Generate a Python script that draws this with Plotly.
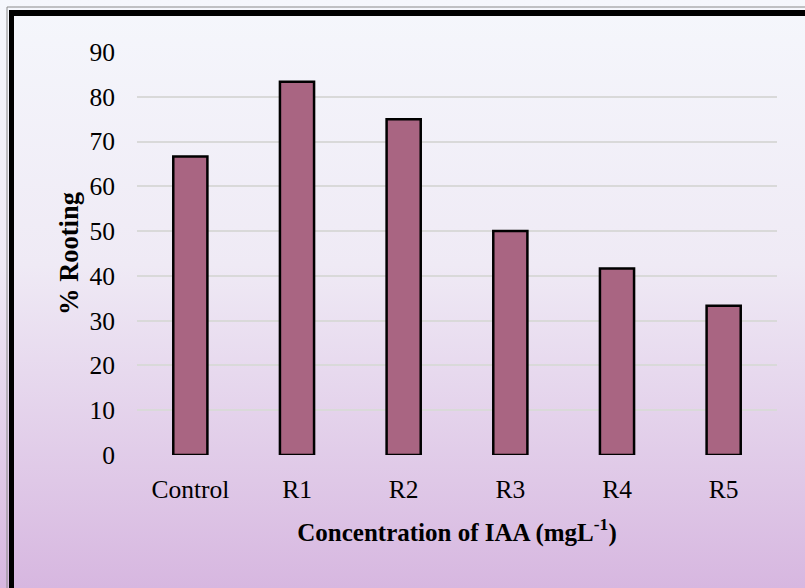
import base64
import plotly.graph_objects as go

categories = ["Control", "R1", "R2", "R3", "R4", "R5"]
rooting = [66.67, 83.33, 75.0, 50.0, 41.67, 33.33]
y_ticks = [0, 10, 20, 30, 40, 50, 60, 70, 80, 90]

W, H = 805, 588
ML, MR, MT, MB = 137, 28, 52, 133

svg = (
    '<svg xmlns="http://www.w3.org/2000/svg" width="805" height="588" preserveAspectRatio="none">'
    '<defs><linearGradient id="g" x1="0" y1="0" x2="0" y2="1">'
    '<stop offset="0" stop-color="#F5F7FC"/>'
    '<stop offset="0.45" stop-color="#EFEAF5"/>'
    '<stop offset="1" stop-color="#D7B7E0"/>'
    '</linearGradient></defs>'
    '<rect width="805" height="588" fill="url(#g)"/></svg>'
)
src = "data:image/svg+xml;base64," + base64.b64encode(svg.encode()).decode()

fig = go.Figure(
    go.Bar(
        x=categories,
        y=rooting,
        marker=dict(color="#A96582", line=dict(color="black", width=2.5)),
        width=0.32,
    )
)

pw = W - ML - MR
ph = H - MT - MB
def px_x(x):
    return (x - ML) / pw
def px_y(y):
    return (H - MB - y) / ph

fig.add_layout_image(
    dict(
        source=src, xref="paper", yref="paper",
        x=px_x(0), y=px_y(0), sizex=W / pw, sizey=H / ph,
        xanchor="left", yanchor="top", sizing="stretch", layer="below",
    )
)

shapes = [
    dict(type="line", xref="paper", yref="paper", x0=px_x(7), x1=px_x(7), y0=px_y(7), y1=px_y(600),
         line=dict(color="#8A8A8A", width=1)),
    dict(type="line", xref="paper", yref="paper", x0=px_x(7), x1=px_x(810), y0=px_y(7), y1=px_y(7),
         line=dict(color="#8A8A8A", width=1)),
    dict(type="line", xref="paper", yref="paper", x0=px_x(11.5), x1=px_x(11.5), y0=px_y(10), y1=px_y(600),
         line=dict(color="black", width=5)),
    dict(type="line", xref="paper", yref="paper", x0=px_x(9), x1=px_x(810), y0=px_y(13), y1=px_y(13),
         line=dict(color="black", width=6)),
]

fig.update_layout(
    width=W, height=H,
    margin=dict(l=ML, r=MR, t=MT, b=MB),
    paper_bgcolor="white",
    plot_bgcolor="rgba(0,0,0,0)",
    showlegend=False,
    shapes=shapes,
    bargap=0.68,
    font=dict(family="Liberation Serif, Times New Roman, serif", color="black", size=25),
    xaxis=dict(
        showgrid=False, showline=False, zeroline=False, ticks="",
        tickfont=dict(size=25.5), ticklabelstandoff=16,
        title=dict(text="<b>Concentration of IAA (mgL<sup>-1</sup>)</b>", font=dict(size=25), standoff=20),
    ),
    yaxis=dict(
        range=[0, 90], tickvals=y_ticks, showgrid=True, gridcolor="#D9D9D9", gridwidth=2,
        zeroline=False, showline=False, ticks="", tickfont=dict(size=25.5), ticklabelstandoff=21,
        title=dict(text="<b>% Rooting</b>", font=dict(size=26.5), standoff=3),
    ),
)

fig.write_html(
    "out.html",
    config={"displayModeBar": False},
    post_script="document.body.style.margin='0';document.body.style.padding='0';",
)
